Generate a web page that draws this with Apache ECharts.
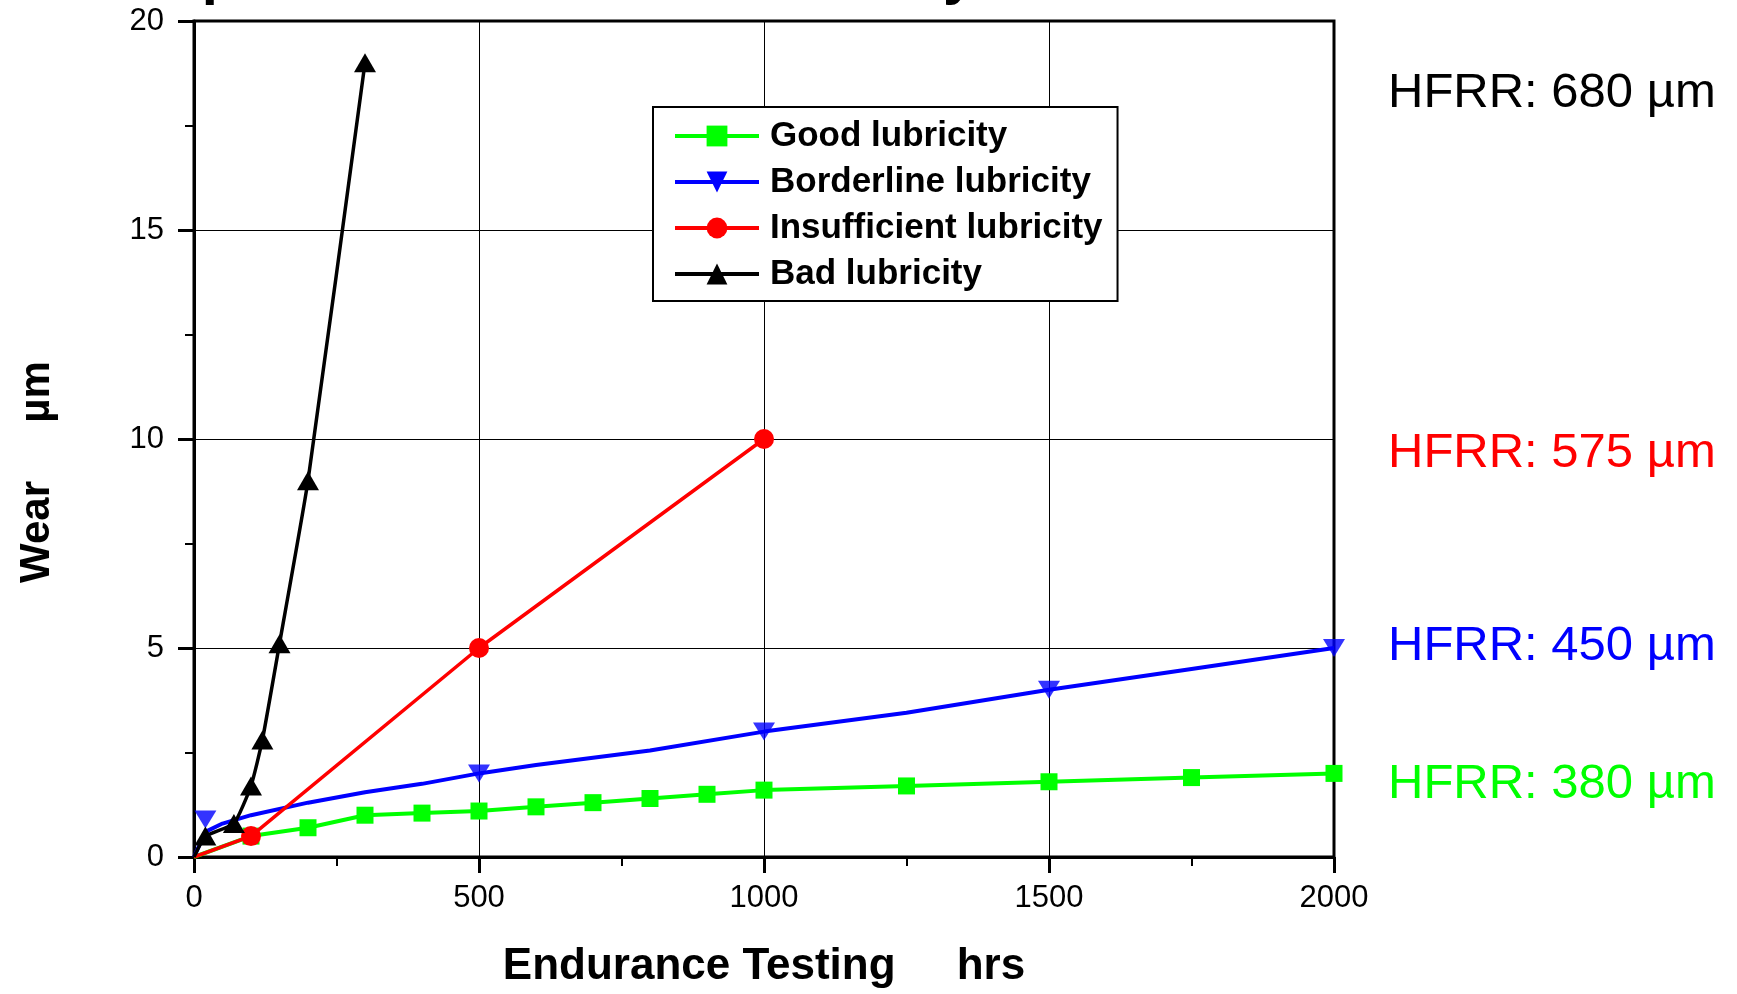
<!DOCTYPE html>
<html>
<head>
<meta charset="utf-8">
<script src="https://cdn.jsdelivr.net/npm/echarts@6/dist/echarts.min.js"></script>
<style>
html,body{margin:0;padding:0;background:#fff;}
#chart{width:1737px;height:994px;}
</style>
</head>
<body>
<div id="chart"></div>
<script>
// ---- data ----
const seriesNames = ['Good lubricity', 'Borderline lubricity', 'Insufficient lubricity', 'Bad lubricity'];

const goodHours = [0, 100, 200, 300, 400, 500, 600, 700, 800, 900, 1000, 1250, 1500, 1750, 2000];
const goodWear  = [0, 0.5, 0.7, 1.0, 1.05, 1.1, 1.2, 1.3, 1.4, 1.5, 1.6, 1.7, 1.8, 1.9, 2.0];

const borderCurveHours = [0, 20, 50, 100, 200, 300, 400, 500, 600, 800, 1000, 1250, 1500, 1750, 2000];
const borderCurveWear  = [0, 0.6, 0.8, 1.0, 1.3, 1.55, 1.75, 2.0, 2.2, 2.55, 3.0, 3.45, 4.0, 4.5, 5.0];
const borderMarkHours  = [20, 500, 1000, 1500, 2000];
const borderMarkWear   = [0.9, 2.0, 3.0, 4.0, 5.0];

const insuffHours = [0, 100, 500, 1000];
const insuffWear  = [0, 0.5, 5.0, 10.0];

const badHours = [0, 20, 70, 100, 120, 150, 200, 300];
const badWear  = [0, 0.5, 0.8, 1.7, 2.8, 5.1, 9.0, 19.0];

const hfrrLabels = ['HFRR: 680 µm', 'HFRR: 575 µm', 'HFRR: 450 µm', 'HFRR: 380 µm'];
const hfrrColors = ['#000000', '#ff0000', '#0000ff', '#00ff00'];

const xTitle = 'Endurance Testing     hrs';
const yTitle = 'Wear     µm';
const topTitle = 'Impact of Diesel Fuel Lubricity';

// ---- build ----
const pairs = (xs, ys) => xs.map((x, i) => [x, ys[i]]);
const noOriginSymbol = (xs, ys) => xs.map((x, i) => x === 0 ? {value: [x, ys[i]], symbol: 'none'} : [x, ys[i]]);

const FONT = 'Liberation Sans, Arial, Helvetica, sans-serif';
const chart = echarts.init(document.getElementById('chart'), null, {renderer: 'canvas'});

const hfrrY = [93, 453, 646, 784];

const option = {
  animation: false,
  backgroundColor: '#ffffff',
  textStyle: {fontFamily: FONT},
  grid: {left: 194, right: 403, top: 21, bottom: 134, show: true, borderColor: '#000', borderWidth: 3, backgroundColor: 'transparent'},
  legend: {
    orient: 'vertical', left: 653, top: 107,
    itemWidth: 84, itemHeight: 26, itemGap: 4,
    padding: [8, 15, 6, 20],
    borderColor: '#000', borderWidth: 2, backgroundColor: '#fff',
    lineStyle: {width: 4},
    textStyle: {fontFamily: FONT, fontSize: 35, fontWeight: 'bold', color: '#000', lineHeight: 42, padding: [0, 0, 0, 6]},
    data: seriesNames
  },
  xAxis: {
    type: 'value', min: 0, max: 2000, interval: 500,
    name: xTitle, nameLocation: 'middle', nameGap: 88,
    nameTextStyle: {fontFamily: FONT, fontSize: 44, fontWeight: 'bold', color: '#000'},
    axisLine: {show: true, onZero: false, lineStyle: {color: '#000', width: 3}},
    axisTick: {show: true, length: 16, lineStyle: {color: '#000', width: 3}},
    minorTick: {show: true, splitNumber: 2, length: 9, lineStyle: {color: '#000', width: 2}},
    splitLine: {show: true, lineStyle: {color: '#000', width: 1}},
    axisLabel: {fontFamily: FONT, fontSize: 31, color: '#000', margin: 26, formatter: v => String(v)}
  },
  yAxis: {
    type: 'value', min: 0, max: 20, interval: 5,
    axisLine: {show: true, onZero: false, lineStyle: {color: '#000', width: 3}},
    axisTick: {show: true, length: 16, lineStyle: {color: '#000', width: 3}},
    minorTick: {show: true, splitNumber: 2, length: 9, lineStyle: {color: '#000', width: 2}},
    splitLine: {show: true, lineStyle: {color: '#000', width: 1}},
    axisLabel: {fontFamily: FONT, fontSize: 31, color: '#000', margin: 30, formatter: v => String(v)}
  },
  graphic: [
    {type: 'text', x: 134, y: -52, silent: true,
     style: {text: topTitle, font: 'bold 58px ' + FONT, fill: '#000', align: 'left', verticalAlign: 'top'}},
    {type: 'text', x: 37, y: 472, rotation: Math.PI / 2, silent: true,
     style: {text: yTitle, font: 'bold 42px ' + FONT, fill: '#000', align: 'center', verticalAlign: 'middle'}}
  ].concat(hfrrLabels.map((t, i) => ({
    type: 'text', x: 1388, y: hfrrY[i], silent: true,
    style: {text: t, font: '49px ' + FONT, fill: hfrrColors[i], align: 'left', verticalAlign: 'middle'}
  }))),
  series: [
    {
      name: seriesNames[0], type: 'line', data: noOriginSymbol(goodHours, goodWear),
      symbol: 'rect', symbolSize: 17, showAllSymbol: true,
      lineStyle: {color: '#00ff00', width: 4}, itemStyle: {color: '#00ff00'}, z: 2
    },
    {
      name: seriesNames[1], type: 'line', data: pairs(borderCurveHours, borderCurveWear),
      symbol: 'triangle', symbolRotate: 180, symbolSize: [22, 18], showSymbol: false,
      lineStyle: {color: '#0000ff', width: 4}, itemStyle: {color: '#0000ff'}, z: 3
    },
    {
      name: seriesNames[1], type: 'scatter', data: pairs(borderMarkHours, borderMarkWear),
      symbol: 'triangle', symbolRotate: 180, symbolSize: [22, 18],
      itemStyle: {color: '#0000ff'}, z: 3
    },
    {
      name: seriesNames[2], type: 'line', data: noOriginSymbol(insuffHours, insuffWear),
      symbol: 'circle', symbolSize: 20, showAllSymbol: true,
      lineStyle: {color: '#ff0000', width: 3.5}, itemStyle: {color: '#ff0000'}, z: 4
    },
    {
      name: seriesNames[3], type: 'line', data: noOriginSymbol(badHours, badWear),
      symbol: 'triangle', symbolSize: [22, 19], showAllSymbol: true, smooth: 0.15,
      lineStyle: {color: '#000000', width: 3.5}, itemStyle: {color: '#000000'}, z: 5
    }
  ]
};
chart.setOption(option);
</script>
</body>
</html>
